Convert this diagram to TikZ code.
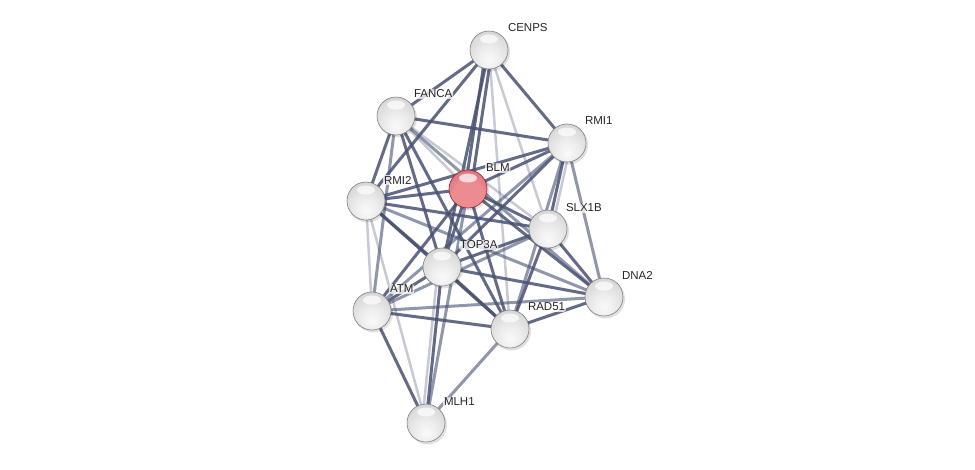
\documentclass[tikz,border=0pt]{standalone}
\usepackage{fontspec}
\setmainfont{Liberation Sans}
\pgfdeclareradialshading{whiteball}{\pgfpoint{0bp}{-14bp}}{%
  color(0bp)=(black!2); color(14bp)=(black!7); color(34bp)=(black!17); color(50bp)=(black!30); color(60bp)=(black!42); color(66bp)=(black!52)}
\definecolor{redin}{RGB}{236,140,145}
\definecolor{redmid}{RGB}{214,104,110}
\definecolor{redout}{RGB}{178,64,72}
\definecolor{redrim}{RGB}{140,40,48}
\pgfdeclareradialshading{redball}{\pgfpoint{0bp}{-14bp}}{%
  color(0bp)=(redin); color(20bp)=(redin); color(38bp)=(redmid); color(54bp)=(redout); color(66bp)=(redrim)}
\definecolor{edgec}{RGB}{72,82,115}
\begin{document}
\begin{tikzpicture}[x=1pt,y=-1pt,
  estrong/.style={draw=edgec,line width=3pt,opacity=0.85},
  emid/.style={draw=edgec,line width=3pt,opacity=0.6},
  elight/.style={draw=edgec,line width=2.5pt,opacity=0.3},
  shine/.style={path picture={\fill[white,opacity=0.7] ([yshift=11pt]path picture bounding box.center) ellipse (9pt and 4.5pt);}},
  ball/.style={circle,minimum size=38pt,inner sep=0pt,shading=whiteball,draw=black!50,line width=0.6pt,shine},
  redb/.style={circle,minimum size=38pt,inner sep=0pt,shading=redball,draw=redrim,line width=0.6pt,shine},
  lab/.style={anchor=west,inner sep=0.8pt,fill=white,fill opacity=0.75,text opacity=1,rounded corners=2pt,font=\fontsize{11.5}{13}\selectfont,text=black!85}]
\useasboundingbox (0,0) rectangle (975,469);
\fill[white] (0,0) rectangle (975,469);
% coordinates
\coordinate (cenps) at (489,50);
\coordinate (fanca) at (396,116);
\coordinate (rmi1) at (567,143);
\coordinate (blm) at (468,189);
\coordinate (rmi2) at (366,201);
\coordinate (slx) at (548,229);
\coordinate (top) at (442,267);
\coordinate (dna) at (604,297);
\coordinate (atm) at (372,311);
\coordinate (rad) at (510,329);
\coordinate (mlh) at (426,423);
% edges
\foreach \a/\b/\s in {
 cenps/fanca/estrong, cenps/rmi2/estrong, cenps/top/estrong, cenps/slx/elight, cenps/rmi1/estrong, cenps/rad/elight,
 fanca/rmi1/estrong, fanca/rmi2/estrong, fanca/blm/elight, fanca/top/estrong, fanca/atm/emid, fanca/slx/elight, fanca/rad/estrong, fanca/dna/emid,
 rmi1/rmi2/estrong, rmi1/blm/estrong, rmi1/top/estrong, rmi1/slx/estrong, rmi1/dna/emid, rmi1/rad/emid, rmi1/atm/emid,
 blm/rmi2/estrong, blm/slx/estrong, blm/top/estrong, blm/dna/estrong, blm/atm/estrong, blm/rad/estrong, blm/mlh/emid,
 rmi2/slx/estrong, rmi2/top/estrong, rmi2/atm/elight, rmi2/rad/estrong, rmi2/mlh/elight, rmi2/dna/emid,
 slx/top/estrong, slx/dna/estrong, slx/rad/estrong, slx/atm/emid,
 top/dna/estrong, top/atm/estrong, top/rad/estrong, top/mlh/estrong,
 dna/rad/estrong, dna/atm/emid,
 atm/rad/estrong, atm/mlh/estrong,
 rad/mlh/emid}
 {\draw[\s] (\a) -- (\b);}
% double edges
\draw[estrong] ([xshift=-3pt]cenps) -- ([xshift=-3pt]blm);
\draw[estrong] ([xshift=3pt]cenps) -- ([xshift=3pt]blm);
\draw[elight] ([xshift=-4pt]mlh) -- ([xshift=-4pt]top);
\draw[elight] ([xshift=4pt]rmi1) -- ([xshift=4pt]slx);
% shadows
\foreach \c in {cenps,fanca,rmi1,blm,rmi2,slx,top,dna,atm,rad,mlh}
 \fill[black,opacity=0.12] ([xshift=1.5pt,yshift=-2pt]\c) circle (19.5pt);
% nodes
\node[ball] (CENPS) at (cenps) {};
\node[ball] (FANCA) at (fanca) {};
\node[ball] (RMI1) at (rmi1) {};
\node[redb] (BLM) at (blm) {};
\node[ball] (RMI2) at (rmi2) {};
\node[ball] (SLX1B) at (slx) {};
\node[ball] (TOP3A) at (top) {};
\node[ball] (DNA2) at (dna) {};
\node[ball] (ATM) at (atm) {};
\node[ball] (RAD51) at (rad) {};
\node[ball] (MLH1) at (mlh) {};
% labels
\node[lab] (lCENPS) at (507,28) {CENPS};
\node[lab] (lFANCA) at (413,94) {FANCA};
\node[lab] (lRMI1) at (584,121) {RMI1};
\node[lab] (lBLM) at (485,168) {BLM};
\node[lab] (lRMI2) at (383,180) {RMI2};
\node[lab] (lSLX1B) at (565,208) {SLX1B};
\node[lab] (lTOP3A) at (459,245) {TOP3A};
\node[lab] (lDNA2) at (621,275) {DNA2};
\node[lab] (lATM) at (389,289) {ATM};
\node[lab] (lRAD51) at (527,307) {RAD51};
\node[lab] (lMLH1) at (443,402) {MLH1};
\end{tikzpicture}
\end{document}
